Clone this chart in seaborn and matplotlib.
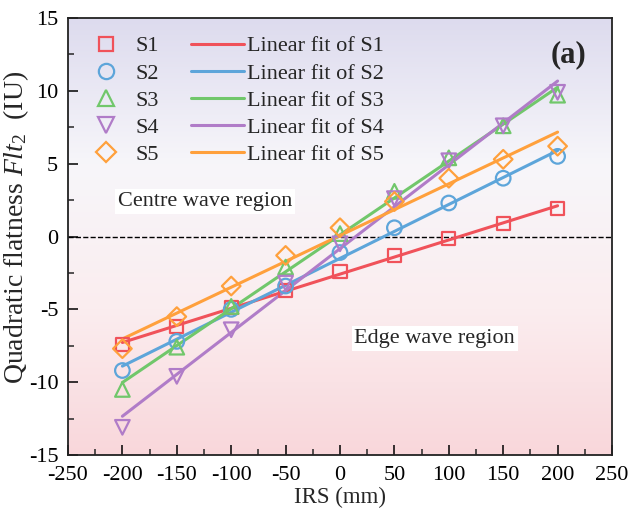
import numpy as np
import pandas as pd
import matplotlib
matplotlib.use("Agg")
import matplotlib.pyplot as plt
import seaborn as sns
from matplotlib.colors import LinearSegmentedColormap
from matplotlib.ticker import MultipleLocator
from matplotlib.lines import Line2D

# ---- data ----
irs = [-200, -150, -100, -50, 0, 50, 100, 150, 200]
s1 = [-7.4, -6.2, -4.9, -3.7, -2.4, -1.3, -0.15, 0.9, 1.9]
s2 = [-9.2, -7.2, -5.0, -3.4, -1.1, 0.6, 2.3, 4.0, 5.5]
s3 = [-10.5, -7.6, -4.8, -2.1, 0.2, 3.1, 5.4, 7.6, 9.7]
s4 = [-13.1, -9.6, -6.4, -3.2, -0.5, 2.6, 5.2, 7.6, 9.9]
s5 = [-7.7, -5.5, -3.4, -1.3, 0.6, 2.4, 4.0, 5.3, 6.2]
series_names = ["S1", "S2", "S3", "S4", "S5"]
series_values = [s1, s2, s3, s4, s5]
colors = ["#F0525A", "#5DA5DA", "#71C76B", "#B07CC8", "#FFA03C"]
markers = ["s", "o", "^", "v", "D"]
x_ticks = [-250, -200, -150, -100, -50, 0, 50, 100, 150, 200, 250]
y_ticks = [-15, -10, -5, 0, 5, 10, 15]

sns.set_theme(style="ticks")
plt.rcParams["font.family"] = ["Liberation Serif", "DejaVu Serif"]
plt.rcParams["mathtext.fontset"] = "custom"
plt.rcParams["mathtext.rm"] = "Liberation Serif"
plt.rcParams["mathtext.it"] = "Liberation Serif:italic"
plt.rcParams["axes.unicode_minus"] = False

W, H = 632, 521
fig = plt.figure(figsize=(W/100, H/100), dpi=100)
L, R, T, B = 68, 612, 18, 455
ax = fig.add_axes([L/W, 1-B/H, (R-L)/W, (B-T)/H])

# background gradient (bottom pink -> middle white -> top lavender)
cmap = LinearSegmentedColormap.from_list("bg", ["#F9D7DB", "#FBEDEF", "#F7F6FA", "#DDDBEE"])
grad = np.linspace(0, 1, 256).reshape(-1, 1)
ax.imshow(grad, cmap=cmap, aspect="auto", origin="lower",
          extent=[-250, 250, -15, 15], zorder=0)

df = pd.DataFrame({"IRS": irs * 5,
                   "val": sum(series_values, []),
                   "S": sum([[n] * len(irs) for n in series_names], [])})

for name, vals, c, m in zip(series_names, series_values, colors, markers):
    sub = df[df["S"] == name]
    k, b = np.polyfit(sub["IRS"], sub["val"], 1)
    fit = pd.DataFrame({"IRS": [irs[0], irs[-1]], "fit": [k*irs[0]+b, k*irs[-1]+b]})
    sns.lineplot(data=fit, x="IRS", y="fit", color=c, lw=2.2, ax=ax, zorder=3)
    ms = 90 if m in ("s", "D") else 110
    sns.scatterplot(data=sub, x="IRS", y="val", marker=m, s=ms, facecolors="none",
                    edgecolor=c, linewidth=1.6, ax=ax, zorder=4)

ax.axhline(0, color="black", ls="--", lw=1.0, zorder=2)

ax.set_xlim(-250, 250)
ax.set_ylim(-15, 15)
ax.set_xticks(x_ticks)
ax.set_yticks(y_ticks)
ax.xaxis.set_minor_locator(MultipleLocator(25))
ax.yaxis.set_minor_locator(MultipleLocator(2.5))
ax.tick_params(which="major", direction="in", length=7, width=1.1, labelsize=16, colors="black")
ax.tick_params(which="minor", direction="in", length=4, width=1.1)
ax.tick_params(axis="x", pad=8)
ax.tick_params(axis="y", pad=7)
for sp in ax.spines.values():
    sp.set_linewidth(1.3)
    sp.set_color("#222222")

ax.set_xlabel("IRS (mm)", fontsize=16.5, labelpad=1)
ax.set_ylabel(r"Quadratic flatness $Flt_2$  (IU)", fontsize=20)
ax.yaxis.set_label_coords(-(L - 31) / (R - L), 0.52)

handles = []
for name, c, m in zip(series_names, colors, markers):
    handles.append(Line2D([], [], ls="none", marker=m, markersize=10 if m in "sD" else 11,
                          markerfacecolor="none", markeredgecolor=c, markeredgewidth=1.6, label=name))
for name, c in zip(series_names, colors):
    handles.append(Line2D([], [], color=c, lw=2.2, label="Linear fit of " + name))
leg = ax.legend(handles=handles, ncol=2, loc="upper left", bbox_to_anchor=(-0.008, 0.995),
                frameon=False, fontsize=16, handlelength=2.4, handletextpad=0.12,
                columnspacing=1.45, labelspacing=0.3, borderaxespad=0.3)

ax.text(-204, 2.4, "Centre wave region", fontsize=16, va="center", ha="left",
        bbox=dict(facecolor="white", edgecolor="none", pad=2), zorder=5)
ax.text(87, -7.0, "Edge wave region", fontsize=16, va="center", ha="center",
        bbox=dict(facecolor="white", edgecolor="none", pad=2), zorder=5)
ax.text(210, 12.5, "(a)", fontsize=22, fontweight="bold", va="center", ha="center", zorder=5)

fig.savefig("out.png", dpi=100)
